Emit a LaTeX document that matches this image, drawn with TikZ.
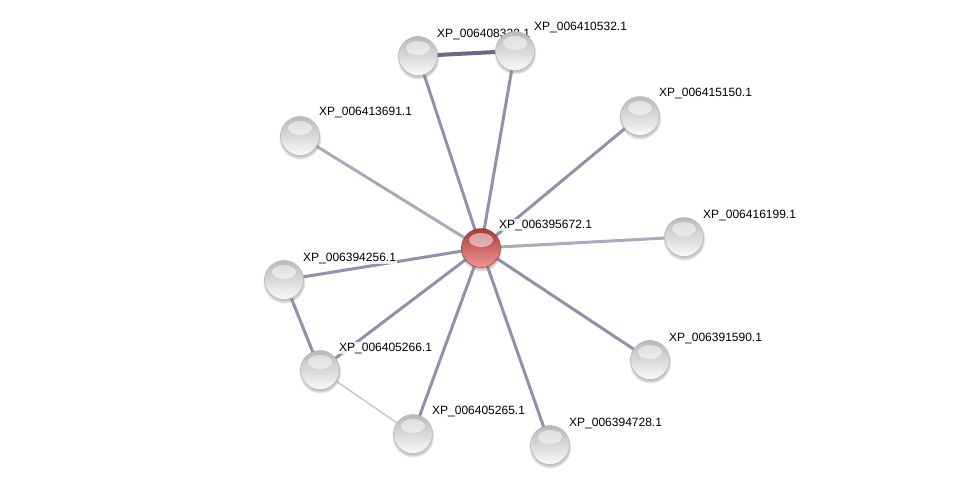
\documentclass[tikz,border=0pt]{standalone}
\usepackage{fontspec}
\setmainfont{Liberation Sans}
\usepackage{xcolor}
\definecolor{linkmid}{RGB}{143,147,168}
\definecolor{linklight}{RGB}{168,171,188}
\definecolor{linkdark}{RGB}{102,107,134}
\definecolor{linkfaint}{RGB}{197,199,209}
\definecolor{redtop}{RGB}{168,58,58}
\definecolor{redmid}{RGB}{214,96,96}
\definecolor{redbot}{RGB}{240,150,150}
\usepackage{tikz}
\usetikzlibrary{calc}
\usetikzlibrary{shadows}

\tikzset{
  prot/.style={circle, inner sep=0pt, minimum size=39pt, draw=gray!65, line width=0.4pt,
    top color=gray!55, middle color=gray!17, bottom color=gray!4,
    circular drop shadow={shadow xshift=0pt, shadow yshift=-2pt, opacity=0.45},
    path picture={\fill[white, opacity=0.5] ($(path picture bounding box.center)+(0,-8)$) ellipse [x radius=12, y radius=7];}},
  query/.style={prot, draw=redtop!80!black, top color=redtop, middle color=redmid, bottom color=redbot},
  lbl/.style={anchor=west, inner sep=1pt, fill=white, fill opacity=0.8, text opacity=1,
    font=\fontsize{12}{14}\selectfont},
  link/.style={line width=3pt, linkmid},
}

\begin{document}
\begin{tikzpicture}[x=1pt, y=-1pt]
      \useasboundingbox (0,0) rectangle (976,490);
      \coordinate (n672) at (481,248);
      \coordinate (n322) at (418,56);
      \coordinate (n532) at (515,51);
      \coordinate (n691) at (300,136);
      \coordinate (n150) at (640,116);
      \coordinate (n199) at (684,237);
      \coordinate (n256) at (284,280);
      \coordinate (n266) at (320,370);
      \coordinate (n265) at (413,434);
      \coordinate (n728) at (550,445);
      \coordinate (n590) at (650,360);

      % links
      \draw[link] (n672) -- (n322);
      \draw[link] (n672) -- (n532);
      \draw[link, linklight] (n672) -- (n691);
      \draw[link] (n672) -- (n150);
      \draw[link, linklight] (n672) -- (n199);
      \draw[link] (n672) -- (n256);
      \draw[link] (n672) -- (n266);
      \draw[link] (n672) -- (n265);
      \draw[link] (n672) -- (n728);
      \draw[link] (n672) -- (n590);
      \draw[link, line width=4pt, linkdark] (n322) -- (n532);
      \draw[link] (n256) -- (n266);
      \draw[link, line width=1.5pt, linkfaint] (n266) -- (n265);

      % proteins
      \node[prot] (p691) at (n691) {};
      \path (n691) ++ (18,-23) node[lbl] (t691) {XP\_006413691.1};
      \node[prot] (p150) at (n150) {};
      \path (n150) ++ (18,-22) node[lbl] (t150) {XP\_006415150.1};
      \node[prot] (p199) at (n199) {};
      \path (n199) ++ (18,-22) node[lbl] (t199) {XP\_006416199.1};
      \node[prot] (p256) at (n256) {};
      \path (n256) ++ (18,-22) node[lbl] (t256) {XP\_006394256.1};
      \node[prot] (p266) at (n266) {};
      \path (n266) ++ (18,-22) node[lbl] (t266) {XP\_006405266.1};
      \node[prot] (p265) at (n265) {};
      \path (n265) ++ (18,-23) node[lbl] (t265) {XP\_006405265.1};
      \node[prot] (p728) at (n728) {};
      \path (n728) ++ (18,-22) node[lbl] (t728) {XP\_006394728.1};
      \node[prot] (p590) at (n590) {};
      \path (n590) ++ (18,-22) node[lbl] (t590) {XP\_006391590.1};
      \node[prot] (p322) at (n322) {};
      \path (n322) ++ (18,-21) node[lbl] (t322) {XP\_006408322.1};
      \node[prot] (p532) at (n532) {};
      \path (n532) ++ (18,-23) node[lbl] (t532) {XP\_006410532.1};
      \node[query] (p672) at (n672) {};
      \path (n672) ++ (17,-23) node[lbl] (t672) {XP\_006395672.1};
\end{tikzpicture}
\end{document}
